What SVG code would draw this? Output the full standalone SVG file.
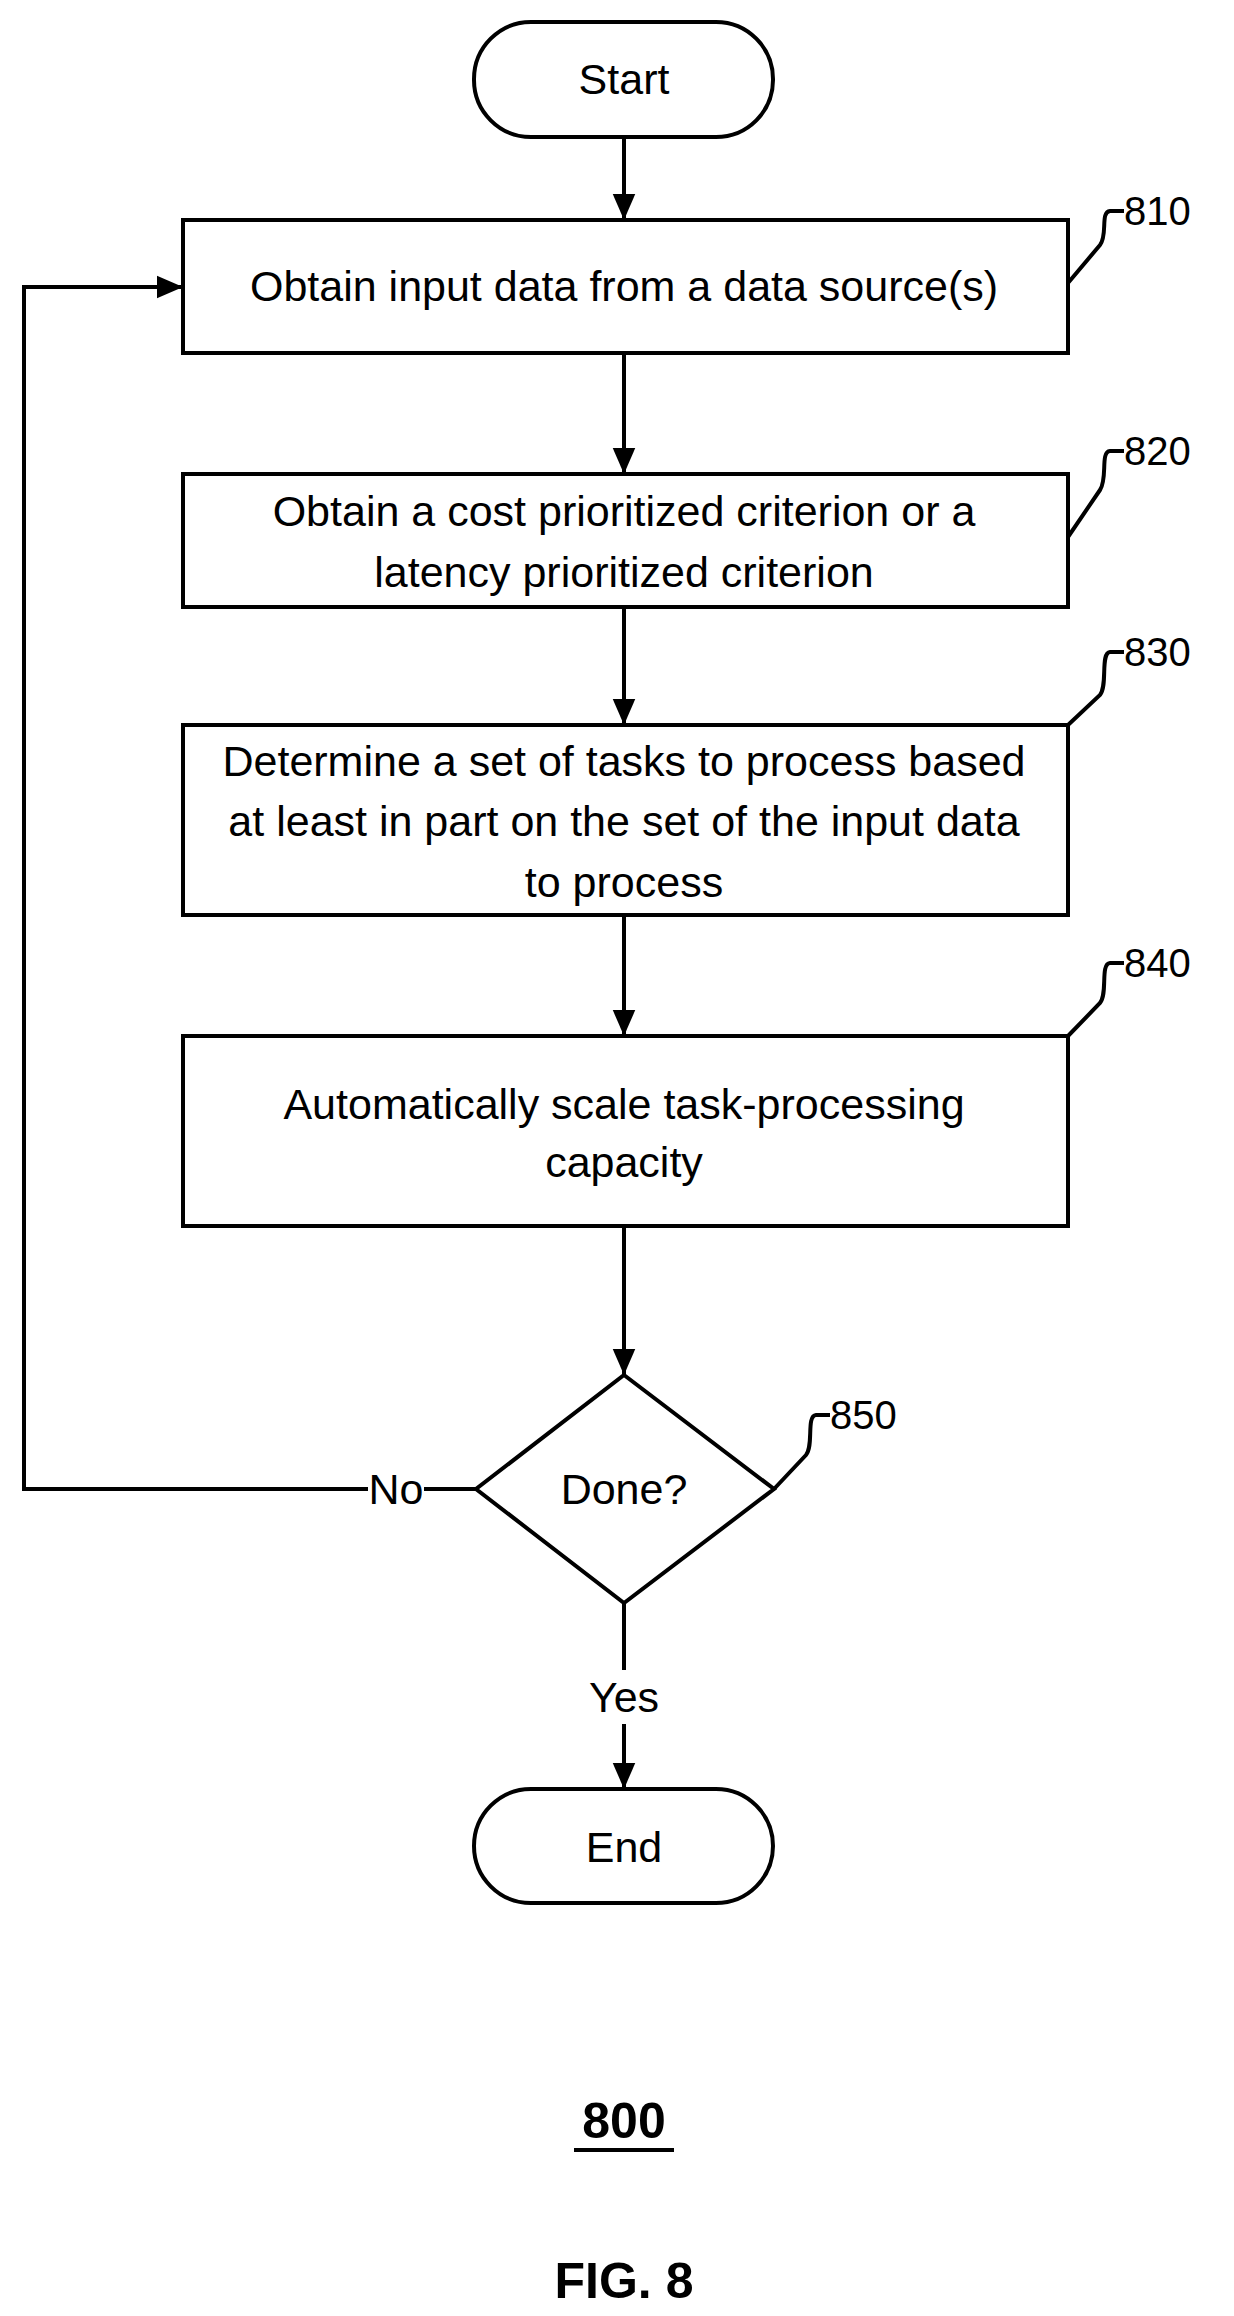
<svg xmlns="http://www.w3.org/2000/svg" width="1234" height="2316" viewBox="0 0 1234 2316">
<style>
.s{fill:#fff;stroke:#000;stroke-width:4}
.t{font-family:"Liberation Sans",Arial,sans-serif;font-size:43px;text-anchor:middle;dominant-baseline:central;fill:#000}
.n{font-family:"Liberation Sans",Arial,sans-serif;font-size:40px;text-anchor:start;dominant-baseline:central;fill:#000}
.l{fill:none;stroke:#000;stroke-width:4}
.b{font-family:"Liberation Sans",Arial,sans-serif;font-size:50px;font-weight:bold;text-anchor:middle;dominant-baseline:central}
</style>
<defs><marker id="ah" markerWidth="26" markerHeight="30" refX="30" refY="13" orient="auto" markerUnits="userSpaceOnUse" viewBox="0 0 30 26"><path d="M0,0L30,13L0,26z"/></marker></defs>
<rect width="1234" height="2316" fill="#fff"/>
<g id="start"><rect class="s" x="474" y="22" width="299" height="115" rx="57"/><text class="t" x="624" y="79">Start</text></g>
<g id="n810"><rect class="s" x="183" y="220" width="885" height="133"/><text class="t" x="624" y="286">Obtain input data from a data source(s)</text>
<path class="l" d="M1068,283 L1100,245 C1108,235 1100,212 1110,211 L1124,211"/><text class="n" x="1124" y="211">810</text></g>
<g id="n820"><rect class="s" x="183" y="474" width="885" height="133"/><text class="t" x="624" y="511">Obtain a cost prioritized criterion or a</text><text class="t" x="624" y="572">latency prioritized criterion</text>
<path class="l" d="M1068,537 L1100,490 C1108,478 1100,452 1110,451 L1124,451"/><text class="n" x="1124" y="451">820</text></g>
<g id="n830"><rect class="s" x="183" y="725" width="885" height="190"/><text class="t" x="624" y="761">Determine a set of tasks to process based</text><text class="t" x="624" y="821">at least in part on the set of the input data</text><text class="t" x="624" y="882">to process</text>
<path class="l" d="M1068,725 L1100,695 C1108,685 1100,653 1110,652 L1124,652"/><text class="n" x="1124" y="652">830</text></g>
<g id="n840"><rect class="s" x="183" y="1036" width="885" height="190"/><text class="t" x="624" y="1104">Automatically scale task-processing</text><text class="t" x="624" y="1162">capacity</text>
<path class="l" d="M1068,1036 L1100,1003 C1108,993 1100,964 1110,963 L1124,963"/><text class="n" x="1124" y="963">840</text></g>
<g id="n850"><path class="s" d="M624,1375 L774,1489 L624,1603 L476,1489 Z"/><text class="t" x="624" y="1489">Done?</text>
<path class="l" d="M774,1489 L806,1455 C814,1445 806,1416 816,1415 L830,1415"/><text class="n" x="830" y="1415">850</text></g>
<g id="end"><rect class="s" x="474" y="1789" width="299" height="114" rx="57"/><text class="t" x="624" y="1847">End</text></g>
<g id="connectors">
<path class="l" d="M624,137 V220" marker-end="url(#ah)"/>
<path class="l" d="M624,353 V474" marker-end="url(#ah)"/>
<path class="l" d="M624,607 V725" marker-end="url(#ah)"/>
<path class="l" d="M624,915 V1036" marker-end="url(#ah)"/>
<path class="l" d="M624,1226 V1375" marker-end="url(#ah)"/>
<path class="l" d="M476,1489 H424"/>
<path class="l" d="M368,1489 H24 V287 H183" marker-end="url(#ah)"/>
<text class="t" x="396" y="1489">No</text>
<path class="l" d="M624,1603 V1670"/>
<text class="t" x="624" y="1697">Yes</text>
<path class="l" d="M624,1724 V1789" marker-end="url(#ah)"/>
</g>
<text class="b" x="624" y="2121">800</text>
<line x1="574" y1="2150" x2="674" y2="2150" stroke="#000" stroke-width="4"/>
<text class="b" x="624" y="2281">FIG. 8</text>
</svg>
